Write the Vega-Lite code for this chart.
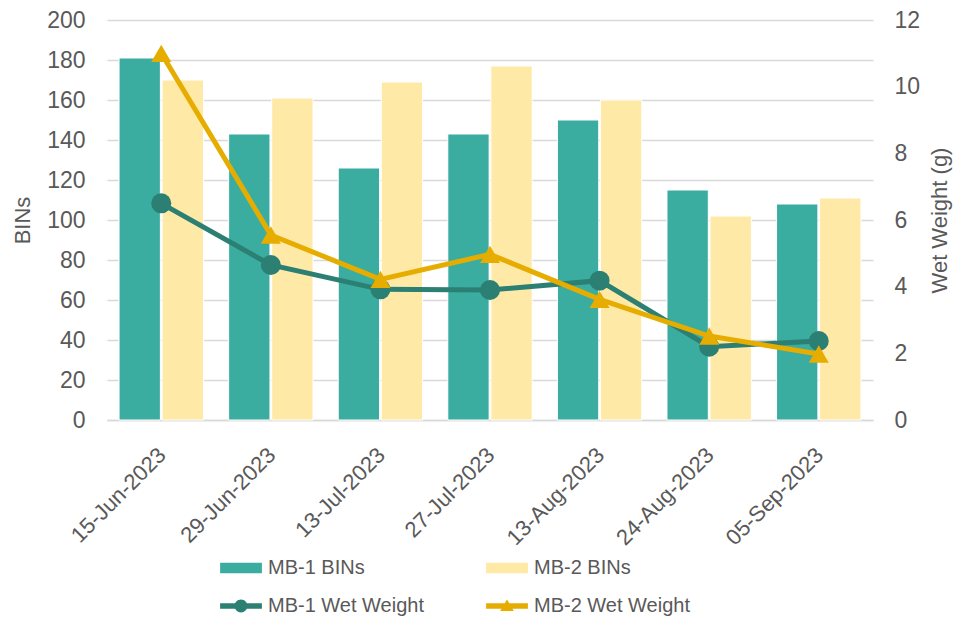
{
  "$schema": "https://vega.github.io/schema/vega-lite/v6.json",
  "width": 766,
  "height": 400,
  "autosize": "none",
  "padding": {"left": 107, "top": 20, "right": 87, "bottom": 200},
  "background": "white",
  "config": {
    "font": "Liberation Sans",
    "view": {"stroke": null},
    "axis": {"labelFont": "Liberation Sans", "titleFont": "Liberation Sans", "labelColor": "#595959", "titleColor": "#595959", "labelFontSize": 23, "titleFontSize": 22, "titleFontWeight": "normal", "ticks": false, "domain": false}
  },
  "datasets": {
    "binsdata": [
      {"date": "15-Jun-2023", "series": "MB-1 BINs", "value": 181},
      {"date": "29-Jun-2023", "series": "MB-1 BINs", "value": 143},
      {"date": "13-Jul-2023", "series": "MB-1 BINs", "value": 126},
      {"date": "27-Jul-2023", "series": "MB-1 BINs", "value": 143},
      {"date": "13-Aug-2023", "series": "MB-1 BINs", "value": 150},
      {"date": "24-Aug-2023", "series": "MB-1 BINs", "value": 115},
      {"date": "05-Sep-2023", "series": "MB-1 BINs", "value": 108},
      {"date": "15-Jun-2023", "series": "MB-2 BINs", "value": 170},
      {"date": "29-Jun-2023", "series": "MB-2 BINs", "value": 161},
      {"date": "13-Jul-2023", "series": "MB-2 BINs", "value": 169},
      {"date": "27-Jul-2023", "series": "MB-2 BINs", "value": 177},
      {"date": "13-Aug-2023", "series": "MB-2 BINs", "value": 160},
      {"date": "24-Aug-2023", "series": "MB-2 BINs", "value": 102},
      {"date": "05-Sep-2023", "series": "MB-2 BINs", "value": 111}
    ],
    "wwdata": [
      {"date": "15-Jun-2023", "series": "MB-1 Wet Weight", "value": 6.5},
      {"date": "29-Jun-2023", "series": "MB-1 Wet Weight", "value": 4.65},
      {"date": "13-Jul-2023", "series": "MB-1 Wet Weight", "value": 3.92},
      {"date": "27-Jul-2023", "series": "MB-1 Wet Weight", "value": 3.9},
      {"date": "13-Aug-2023", "series": "MB-1 Wet Weight", "value": 4.18},
      {"date": "24-Aug-2023", "series": "MB-1 Wet Weight", "value": 2.2},
      {"date": "05-Sep-2023", "series": "MB-1 Wet Weight", "value": 2.37},
      {"date": "15-Jun-2023", "series": "MB-2 Wet Weight", "value": 11.0},
      {"date": "29-Jun-2023", "series": "MB-2 Wet Weight", "value": 5.55},
      {"date": "13-Jul-2023", "series": "MB-2 Wet Weight", "value": 4.22},
      {"date": "27-Jul-2023", "series": "MB-2 Wet Weight", "value": 4.97},
      {"date": "13-Aug-2023", "series": "MB-2 Wet Weight", "value": 3.62},
      {"date": "24-Aug-2023", "series": "MB-2 Wet Weight", "value": 2.52},
      {"date": "05-Sep-2023", "series": "MB-2 Wet Weight", "value": 1.98}
    ]
  },
  "layer": [
    {
      "data": {"name": "binsdata"},
      "mark": {"type": "bar", "stroke": "white", "strokeWidth": 1},
      "encoding": {
        "x": {
          "field": "date", "type": "nominal", "sort": null, "title": null,
          "scale": {"domain": ["15-Jun-2023", "29-Jun-2023", "13-Jul-2023", "27-Jul-2023", "13-Aug-2023", "24-Aug-2023", "05-Sep-2023"], "paddingInner": 0.23, "paddingOuter": 0.11},
          "axis": {"labelAngle": -45, "labelFontSize": 22, "labelPadding": 24, "labelOffset": -6, "domain": true, "domainColor": "#d9d9d9", "domainWidth": 1.5, "grid": false}
        },
        "xOffset": {"field": "series", "type": "nominal", "scale": {"domain": ["MB-1 BINs", "MB-2 BINs"], "paddingInner": 0.04}},
        "y": {
          "field": "value", "type": "quantitative", "title": "BINs",
          "scale": {"domain": [0, 200]},
          "axis": {"values": [0, 20, 40, 60, 80, 100, 120, 140, 160, 180, 200], "grid": true, "gridColor": "#d9d9d9", "gridWidth": 1.5, "labelPadding": 22, "titlePadding": 12}
        },
        "color": {
          "field": "series", "type": "nominal",
          "scale": {"domain": ["MB-1 BINs", "MB-2 BINs", "MB-1 Wet Weight", "MB-2 Wet Weight"], "range": ["#3aada0", "#ffe9a6", "#2b7f73", "#e6ad00"]},
          "legend": {
            "title": null, "orient": "none", "legendX": 115, "legendY": 529, "direction": "horizontal", "columns": 2, "columnPadding": 62, "rowPadding": 9,
            "symbolSize": 1444, "symbolStrokeWidth": 0, "labelFontSize": 20, "labelColor": "#595959", "labelFont": "Liberation Sans", "labelOffset": 8, "labelLimit": 300,
            "symbolType": {"expr": "indexof(datum.value, 'BINs') >= 0 ? 'M-1.1,-0.27H1.1V0.27H-1.1Z' : (indexof(datum.value, 'MB-1') >= 0 ? 'M-1.1,-0.15H1.1V0.15H-1.1ZM0.34,0A0.34,0.34 0 1 1 -0.34,0A0.34,0.34 0 1 1 0.34,0Z' : 'M-1.1,-0.15H1.1V0.15H-1.1ZM0,-0.34L0.36,0.26H-0.36Z')"},
            "encode": {
              "symbols": {
                "fill": {"value": {"expr": "scale('color', datum.value)"}}
              }
            }
          }
        }
      }
    },
    {
      "data": {"name": "wwdata"},
      "mark": {"type": "line", "strokeWidth": 5},
      "encoding": {
        "x": {"field": "date", "type": "nominal", "sort": null},
        "y": {
          "field": "value", "type": "quantitative", "title": "Wet Weight (g)",
          "scale": {"domain": [0, 12]},
          "axis": {"orient": "right", "values": [0, 2, 4, 6, 8, 10, 12], "grid": false, "labelPadding": 21, "titlePadding": 32, "titleAngle": 270}
        },
        "stroke": {"field": "series", "type": "nominal", "scale": {"domain": ["MB-1 Wet Weight", "MB-2 Wet Weight"], "range": ["#2b7f73", "#e6ad00"]}, "legend": null}
      }
    },
    {
      "data": {"name": "wwdata"},
      "mark": {"type": "point", "filled": true, "opacity": 1, "size": 400, "strokeWidth": 0},
      "encoding": {
        "x": {"field": "date", "type": "nominal", "sort": null},
        "y": {"field": "value", "type": "quantitative", "scale": {"domain": [0, 12]}, "axis": null},
        "fill": {"field": "series", "type": "nominal", "scale": {"domain": ["MB-1 Wet Weight", "MB-2 Wet Weight"], "range": ["#2b7f73", "#e6ad00"]}, "legend": null},
        "shape": {"field": "series", "type": "nominal", "scale": {"domain": ["MB-1 Wet Weight", "MB-2 Wet Weight"], "range": ["circle", "triangle-up"]}, "legend": null}
      }
    }
  ],
  "resolve": {"scale": {"y": "independent"}}
}
